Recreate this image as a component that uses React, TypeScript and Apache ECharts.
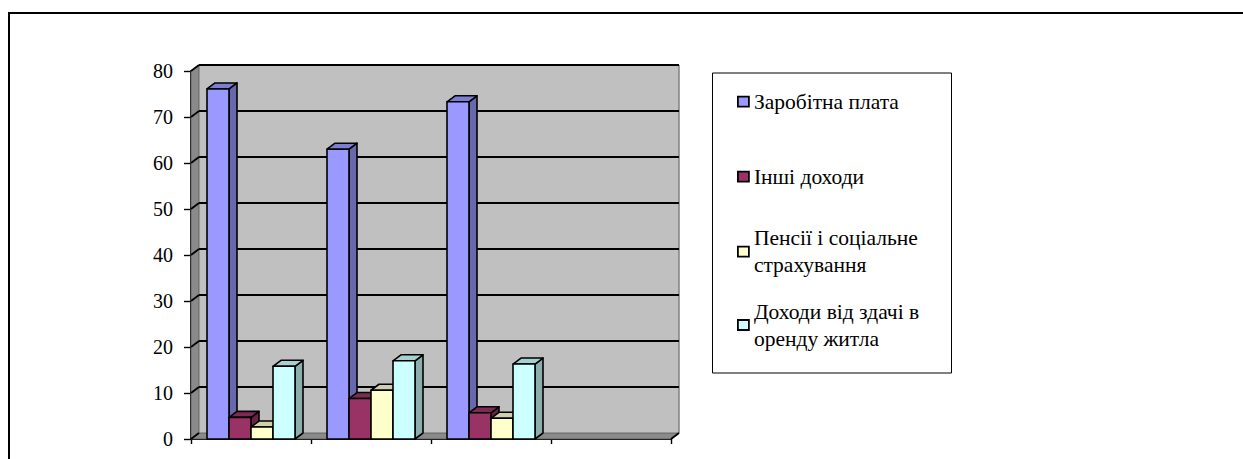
import React, { useEffect, useRef } from "react";
import * as echarts from "echarts";

const categories = ["1", "2", "3", "4"];
const seriesNames = [
  "Заробітна плата",
  "Інші доходи",
  "Пенсії і соціальне страхування",
  "Доходи від здачі в оренду житла",
];
const legendLabels = [
  "Заробітна плата",
  "Інші доходи",
  "Пенсії і соціальне\nстрахування",
  "Доходи від здачі в\nоренду житла",
];
const wages = [76.1, 63.0, 73.3, null];
const otherIncome = [4.7, 8.8, 5.7, null];
const pensions = [2.6, 10.6, 4.5, null];
const rentIncome = [15.8, 17.0, 16.3, null];
const yMin = 0;
const yMax = 80;
const yInterval = 10;
const colors = ["#9999FF", "#993366", "#FFFFCC", "#CCFFFF"];

const allValues = [wages, otherIncome, pensions, rentIncome];

const DX = 8;
const DY = 6;
const BAR_RATIO = 22 / 120;
const FONT = "serif";

function shade(hex: string, f: number): string {
  const n = parseInt(hex.slice(1), 16);
  const r = Math.round(((n >> 16) & 255) * f);
  const g = Math.round(((n >> 8) & 255) * f);
  const b = Math.round((n & 255) * f);
  return `rgb(${r},${g},${b})`;
}

function makeBarRender(sIdx: number) {
  return (params: any, api: any) => {
    const cat = api.value(0);
    const v = api.value(1);
    const top = api.coord([cat, v]);
    const base = api.coord([cat, 0]);
    const band = api.size([1, 0])[0];
    const bw = band * BAR_RATIO;
    const x = top[0] - 2 * bw + sIdx * bw;
    const yT = top[1];
    const y0 = base[1];
    const c = colors[sIdx];
    const stroke = { stroke: "#000", lineWidth: 1.6, lineJoin: "round" };
    return {
      type: "group",
      children: [
        {
          type: "polygon",
          shape: {
            points: [
              [x + bw, yT],
              [x + bw + DX, yT - DY],
              [x + bw + DX, y0 - DY],
              [x + bw, y0],
            ],
          },
          style: { fill: shade(c, 0.68), ...stroke },
        },
        {
          type: "polygon",
          shape: {
            points: [
              [x, yT],
              [x + DX, yT - DY],
              [x + bw + DX, yT - DY],
              [x + bw, yT],
            ],
          },
          style: { fill: shade(c, 0.82), ...stroke },
        },
        {
          type: "rect",
          shape: { x, y: yT, width: bw, height: y0 - yT },
          style: { fill: c, ...stroke },
        },
      ],
    };
  };
}

function wallsRender(params: any, api: any) {
  const cs = params.coordSys;
  const x = cs.x;
  const y = cs.y;
  const w = cs.width;
  const h = cs.height;
  const children: any[] = [];
  children.push({
    type: "rect",
    shape: { x: x + DX, y: y - DY, width: w, height: h },
    style: { fill: "#C0C0C0" },
  });
  children.push({
    type: "polygon",
    shape: { points: [[x, y], [x + DX, y - DY], [x + DX, y + h - DY], [x, y + h]] },
    style: { fill: "#8A8A8A", stroke: "#555", lineWidth: 0.8 },
  });
  children.push({
    type: "polygon",
    shape: {
      points: [[x, y + h], [x + DX, y + h - DY], [x + w + DX, y + h - DY], [x + w, y + h]],
    },
    style: { fill: "#8A8A8A", stroke: "#555", lineWidth: 0.8 },
  });
  children.push({
    type: "line",
    shape: { x1: x + w + DX, y1: y - DY, x2: x + w + DX, y2: y + h - DY },
    style: { stroke: "#808080", lineWidth: 1.5 },
  });
  children.push({
    type: "line",
    shape: { x1: x + w, y1: y + h, x2: x + w + DX, y2: y + h - DY },
    style: { stroke: "#000", lineWidth: 1.8 },
  });
  for (let v = yMin + yInterval; v <= yMax; v += yInterval) {
    const yy = api.coord([0, v])[1];
    children.push({
      type: "line",
      shape: { x1: x + DX, y1: yy - DY, x2: x + w + DX, y2: yy - DY },
      style: { stroke: "#000", lineWidth: 2 },
    });
    children.push({
      type: "line",
      shape: { x1: x, y1: yy, x2: x + DX, y2: yy - DY },
      style: { stroke: "#000", lineWidth: 1.8 },
    });
  }
  children.push({
    type: "line",
    shape: { x1: x, y1: y + h, x2: x + DX, y2: y + h - DY },
    style: { stroke: "#000", lineWidth: 1.8 },
  });
  return { type: "group", children };
}

const legendTops = [88.2, 163.2, 211.2, 284.5];

export default function App() {
  const ref = useRef<HTMLDivElement>(null);
  useEffect(() => {
    document.body.style.margin = "0";
    if (!ref.current) return;
    const chart = echarts.init(ref.current, undefined, { renderer: "svg" });
    const labelMap: Record<string, string> = {};
    seriesNames.forEach((n, i) => (labelMap[n] = legendLabels[i]));

    const series: any[] = [
      {
        type: "custom",
        name: "walls",
        renderItem: wallsRender,
        data: [[0, 0]],
        silent: true,
        z: 1,
      },
    ];
    allValues.forEach((vals, sIdx) => {
      series.push({
        type: "custom",
        name: seriesNames[sIdx],
        renderItem: makeBarRender(sIdx),
        itemStyle: { color: colors[sIdx] },
        encode: { x: 0, y: 1 },
        data: vals
          .map((v, i) => (v == null ? null : [i, v]))
          .filter((d) => d !== null),
        z: 2,
      });
    });

    const legends = seriesNames.map((n, i) => ({
      orient: "vertical",
      left: 737,
      top: legendTops[i],
      padding: 0,
      itemGap: 0,
      itemWidth: 11,
      itemHeight: 10,
      icon: "rect",
      selectedMode: false,
      formatter: (name: string) => labelMap[name] || name,
      textStyle: {
        fontFamily: FONT,
        fontSize: 21.5,
        color: "#000",
        lineHeight: 27,
        padding: legendLabels[i].includes("\n") ? [27, 0, 0, 0] : 0,
      },
      data: [
        {
          name: n,
          itemStyle: { color: colors[i], borderColor: "#000", borderWidth: 1.8 },
        },
      ],
    }));

    chart.setOption({
      animation: false,
      grid: { left: 191, top: 71, width: 480, height: 368 },
      xAxis: {
        type: "category",
        data: categories,
        boundaryGap: true,
        axisLine: { show: true, lineStyle: { color: "#000", width: 1.8 } },
        axisTick: { show: true, length: 5, lineStyle: { color: "#000", width: 1.4 } },
        axisLabel: { show: false },
        splitLine: { show: false },
      },
      yAxis: {
        type: "value",
        min: yMin,
        max: yMax,
        interval: yInterval,
        axisLine: { show: true, lineStyle: { color: "#000", width: 1.8 } },
        axisTick: { show: true, length: 7, lineStyle: { color: "#000", width: 1.4 } },
        axisLabel: { margin: 18, fontFamily: FONT, fontSize: 20, color: "#000" },
        splitLine: { show: false },
      },
      legend: legends,
      graphic: [
        {
          type: "line",
          shape: { x1: 8, y1: 13, x2: 1243, y2: 13 },
          style: { stroke: "#000", lineWidth: 2 },
        },
        {
          type: "line",
          shape: { x1: 9, y1: 13, x2: 9, y2: 459 },
          style: { stroke: "#000", lineWidth: 2 },
        },
        {
          type: "rect",
          z: -1,
          shape: { x: 712.5, y: 73, width: 239, height: 300 },
          style: { fill: "#fff", stroke: "#000", lineWidth: 1 },
        },
      ],
      series,
    });
    return () => chart.dispose();
  }, []);
  return <div ref={ref} style={{ width: 1243, height: 459 }} />;
}
